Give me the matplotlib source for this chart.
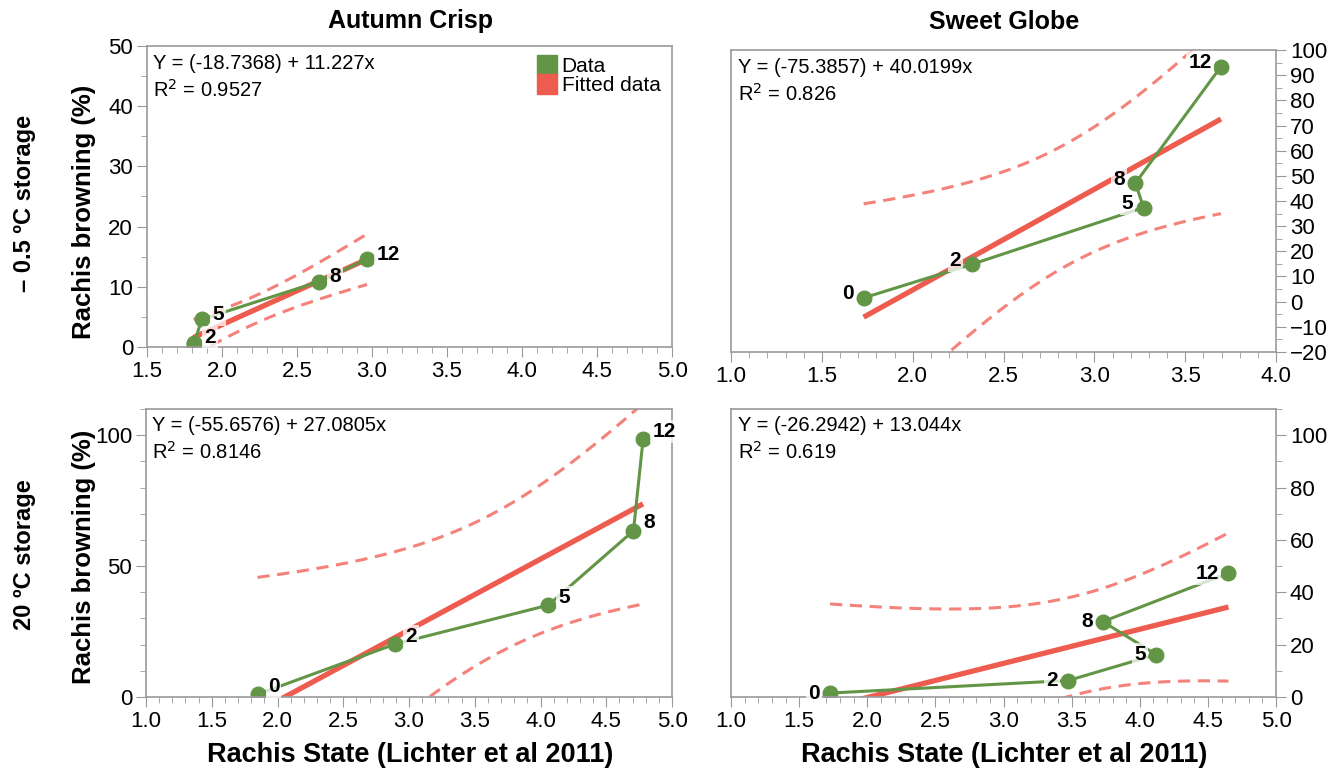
import numpy as np
import matplotlib.pyplot as plt
from matplotlib.ticker import MultipleLocator
from matplotlib.lines import Line2D

plt.rcParams['font.family'] = ['Liberation Sans', 'DejaVu Sans']

# weeks in storage, used as point labels
weeks = ['0', '2', '5', '8', '12']

# Autumn Crisp, -0.5 C
ac_cold_x = [1.81, 1.815, 1.865, 2.647, 2.967]
ac_cold_y = [0.5, 0.7, 4.6, 10.85, 14.6]
# Sweet Globe, -0.5 C
sg_cold_x = [1.730, 2.324, 3.271, 3.226, 3.697]
sg_cold_y = [1.5, 14.8, 37.4, 47.1, 93.4]
# Autumn Crisp, 20 C
ac_warm_x = [1.848, 2.894, 4.06, 4.707, 4.78]
ac_warm_y = [1.0, 20.2, 35.1, 63.5, 98.4]
# Sweet Globe, 20 C
sg_warm_x = [1.727, 3.475, 4.121, 3.729, 4.651]
sg_warm_y = [1.5, 6.3, 16.2, 28.8, 47.3]

# fitted coefficients (intercept, slope) and R^2 as printed
fits = [(-18.7368, 11.227, '0.9527'), (-75.3857, 40.0199, '0.826'),
        (-55.6576, 27.0805, '0.8146'), (-26.2942, 13.044, '0.619')]

T_975_DF3 = 3.182  # t quantile for 95% CI, n = 5

GREEN = '#629646'
RED = '#ee5b4f'
PINK = '#f4827b'
GREY = '#9a9a9a'

fig = plt.figure(figsize=(13.38, 7.71), dpi=100)
W, H = 1338, 771


def add_ax(x0, y0, x1, y1):
    return fig.add_axes([x0 / W, 1 - y1 / H, (x1 - x0) / W, (y1 - y0) / H])


axes = [add_ax(147, 46, 672, 347), add_ax(731, 50, 1276, 352),
        add_ax(146, 409, 672, 697), add_ax(731, 409, 1276, 697)]

panels = [(ac_cold_x, ac_cold_y), (sg_cold_x, sg_cold_y),
          (ac_warm_x, ac_warm_y), (sg_warm_x, sg_warm_y)]
xlims = [(1.5, 5.0), (1.0, 4.0), (1.0, 5.0), (1.0, 5.0)]
ylims = [(0, 50), (-20, 100), (0, 110), (0, 110)]
ymaj = [10, 10, 50, 20]
ymin = [5, 5, 10, 10]
label_side = [1, -1, 1, -1]
label_dy = [5, 4, 8, 0]

for i, ax in enumerate(axes):
    x = np.array(panels[i][0])
    y = np.array(panels[i][1])
    b0, b1, r2 = fits[i]

    xs = np.linspace(x.min(), x.max(), 200)
    yfit = b0 + b1 * xs
    resid = y - (b0 + b1 * x)
    s = np.sqrt(np.sum(resid ** 2) / (len(x) - 2))
    sxx = np.sum((x - x.mean()) ** 2)
    half = T_975_DF3 * s * np.sqrt(1 / len(x) + (xs - x.mean()) ** 2 / sxx)

    ax.plot(xs, yfit + half, '--', color=PINK, lw=2.2, dashes=(4, 2.5))
    ax.plot(xs, yfit - half, '--', color=PINK, lw=2.2, dashes=(4, 2.5))
    ax.plot(xs, yfit, color=RED, lw=3.8, solid_capstyle='butt')
    ax.plot(x, y, '-o', color=GREEN, lw=2.2, ms=10.5, mec=GREEN)

    for j, w in enumerate(weeks):
        if i == 0 and w == '0':
            continue
        dx = label_side[i] * (16 + 5 * (len(w) - 1))
        ax.annotate(w, (x[j], y[j]), xytext=(dx, label_dy[i]),
                    textcoords='offset pixels', ha='center', va='center',
                    fontsize=15, fontweight='bold',
                    bbox=dict(boxstyle='square,pad=0.1', fc='white',
                              ec='none', alpha=0.75))

    ax.text(0.012, 0.975, f'Y = ({b0}) + {b1}x', transform=ax.transAxes,
            ha='left', va='top', fontsize=14.5)
    ax.text(0.012, 0.89, f'R$^2$ = {r2}', transform=ax.transAxes,
            ha='left', va='top', fontsize=14.5)

    ax.set_xlim(*xlims[i])
    ax.set_ylim(*ylims[i])
    ax.xaxis.set_major_locator(MultipleLocator(0.5))
    ax.xaxis.set_minor_locator(MultipleLocator(0.1))
    ax.yaxis.set_major_locator(MultipleLocator(ymaj[i]))
    ax.yaxis.set_minor_locator(MultipleLocator(ymin[i]))
    ax.xaxis.set_major_formatter(plt.FormatStrFormatter('%.1f'))
    if i in (1, 3):
        ax.yaxis.tick_right()
    for sp in ax.spines.values():
        sp.set_color(GREY)
        sp.set_linewidth(1.2)
    ax.tick_params(which='major', length=7, color=GREY, labelsize=16,
                   pad=3)
    ax.tick_params(which='minor', length=4, color=GREY)

legend_handles = [
    Line2D([], [], marker='s', ls='none', color=GREEN, ms=14),
    Line2D([], [], marker='s', ls='none', color=RED, ms=14),
]
axes[0].legend(legend_handles, ['Data', 'Fitted data'], loc='upper right',
               frameon=False, fontsize=15, handletextpad=0.2,
               labelspacing=0.0, borderaxespad=0.15, handlelength=1.0)

fig.text(410 / W, 1 - 21 / H, 'Autumn Crisp', ha='center', va='center',
         fontsize=18, fontweight='bold')
fig.text(1004 / W, 1 - 22 / H, 'Sweet Globe', ha='center', va='center',
         fontsize=18, fontweight='bold')

fig.text(25 / W, 1 - 203 / H, '\u2013 0.5 \u00baC storage', rotation=90,
         ha='center', va='center', fontsize=17, fontweight='bold')
fig.text(25 / W, 1 - 555 / H, '20 \u00baC storage', rotation=90,
         ha='center', va='center', fontsize=17, fontweight='bold')

fig.text(84 / W, 1 - 212 / H, 'Rachis browning (%)', rotation=90,
         ha='center', va='center', fontsize=18.5, fontweight='bold')
fig.text(84 / W, 1 - 557 / H, 'Rachis browning (%)', rotation=90,
         ha='center', va='center', fontsize=18.5, fontweight='bold')

fig.text(410 / W, 1 - 755 / H, 'Rachis State (Lichter et al 2011)',
         ha='center', va='center', fontsize=19.5, fontweight='bold')
fig.text(1004 / W, 1 - 755 / H, 'Rachis State (Lichter et al 2011)',
         ha='center', va='center', fontsize=19.5, fontweight='bold')

fig.savefig('out.png', dpi=100)
